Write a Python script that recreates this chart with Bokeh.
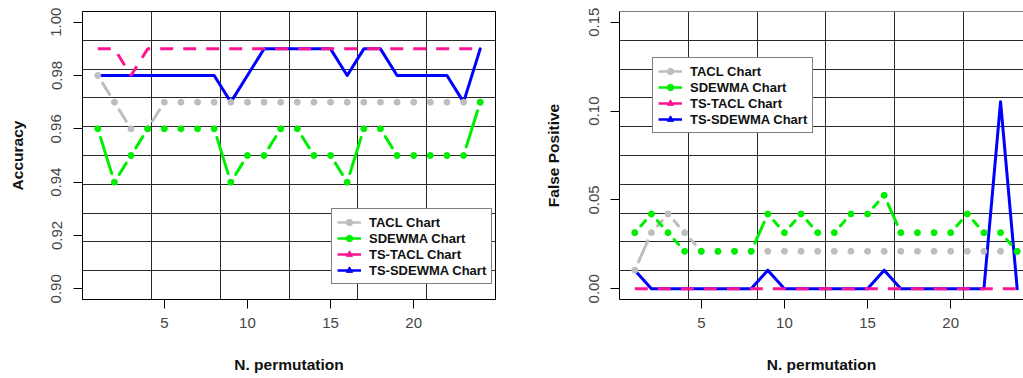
import numpy as np
from bokeh.plotting import figure
from bokeh.layouts import row
from bokeh.models import Range1d, FixedTicker, PrintfTickFormatter, Legend, LegendItem, Span
from bokeh.embed import file_html
from bokeh.resources import INLINE

# ---------------- data ----------------
perm = list(range(1, 25))

acc_tacl = [0.98, 0.97, 0.96, 0.96, 0.97, 0.97, 0.97, 0.97, 0.97, 0.97, 0.97, 0.97,
            0.97, 0.97, 0.97, 0.97, 0.97, 0.97, 0.97, 0.97, 0.97, 0.97, 0.97, 0.97]
acc_sdewma = [0.96, 0.94, 0.95, 0.96, 0.96, 0.96, 0.96, 0.96, 0.94, 0.95, 0.95, 0.96,
              0.96, 0.95, 0.95, 0.94, 0.96, 0.96, 0.95, 0.95, 0.95, 0.95, 0.95, 0.97]
acc_ts_tacl = [0.99, 0.99, 0.98, 0.99, 0.99, 0.99, 0.99, 0.99, 0.99, 0.99, 0.99, 0.99,
               0.99, 0.99, 0.99, 0.99, 0.99, 0.99, 0.99, 0.99, 0.99, 0.99, 0.99, 0.99]
acc_ts_sdewma = [0.98, 0.98, 0.98, 0.98, 0.98, 0.98, 0.98, 0.98, 0.97, 0.98, 0.99, 0.99,
                 0.99, 0.99, 0.99, 0.98, 0.99, 0.99, 0.98, 0.98, 0.98, 0.98, 0.97, 0.99]

fp_tacl = [0.0105, 0.0316, 0.0421, 0.0316, 0.0211, 0.0211, 0.0211, 0.0211, 0.0211, 0.0211, 0.0211, 0.0211,
           0.0211, 0.0211, 0.0211, 0.0211, 0.0211, 0.0211, 0.0211, 0.0211, 0.0211, 0.0211, 0.0211, 0.0211]
fp_sdewma = [0.0316, 0.0421, 0.0316, 0.0211, 0.0211, 0.0211, 0.0211, 0.0211, 0.0421, 0.0316, 0.0421, 0.0316,
             0.0316, 0.0421, 0.0421, 0.0526, 0.0316, 0.0316, 0.0316, 0.0316, 0.0421, 0.0316, 0.0316, 0.0211]
fp_ts_tacl = [0.0, 0.0, 0.0, 0.0, 0.0, 0.0, 0.0, 0.0, 0.0, 0.0, 0.0, 0.0,
              0.0, 0.0, 0.0, 0.0, 0.0, 0.0, 0.0, 0.0, 0.0, 0.0, 0.0, 0.0]
fp_ts_sdewma = [0.0105, 0.0, 0.0, 0.0, 0.0, 0.0, 0.0, 0.0, 0.0105, 0.0, 0.0, 0.0,
                0.0, 0.0, 0.0, 0.0105, 0.0, 0.0, 0.0, 0.0, 0.0, 0.0, 0.1053, 0.0]

series_names = ["TACL Chart", "SDEWMA Chart", "TS-TACL Chart", "TS-SDEWMA Chart"]
acc_ticks = [0.90, 0.92, 0.94, 0.96, 0.98, 1.00]
fp_ticks = [0.00, 0.05, 0.10, 0.15]
x_ticks = [5, 10, 15, 20]

# ---------------- style ----------------
FONT = "Liberation Sans"
C_TACL = "#BEBEBE"
C_SDEWMA = "#00EE00"
C_TSTACL = "#FF1493"
C_TSSDEWMA = "#0000FF"
H = 378
TOP = 11
BOTTOM = 79
FRAME_H = H - TOP - BOTTOM


def gapped(x, y, sx, sy, gap):
    """R type='b' style segments: lines between points with gaps around each point."""
    x = np.asarray(x, float)
    y = np.asarray(y, float)
    ddx = np.diff(x)
    ddy = np.diff(y)
    L = np.hypot(ddx * sx, ddy * sy)
    keep = L > 2 * gap
    f = np.where(keep, gap / np.where(L == 0, 1, L), 0)
    x0 = x[:-1] + f * ddx
    y0 = y[:-1] + f * ddy
    x1 = x[1:] - f * ddx
    y1 = y[1:] - f * ddy
    return x0[keep], y0[keep], x1[keep], y1[keep]


def make_panel(width, bl, br, xr, xfull, yr, yticks, ylabel, data, legend_xy,
               ylab_standoff, title_standoff, open_right):
    p = figure(width=width, height=H, x_range=Range1d(*xr), y_range=Range1d(*yr),
               output_backend="svg", toolbar_location=None,
               min_border_left=bl, min_border_right=br, min_border_top=TOP, min_border_bottom=BOTTOM,
               background_fill_color="white", border_fill_color="white")
    frame_w = width - bl - br
    sx = frame_w / (xr[1] - xr[0])
    sy = FRAME_H / (yr[1] - yr[0])

    # grid: equal divisions of the plotting box (6 x 10)
    p.xgrid.ticker = FixedTicker(ticks=[xfull[0] + k * (xfull[1] - xfull[0]) / 6 for k in range(1, 6)])
    p.ygrid.ticker = FixedTicker(ticks=[yr[0] + k * (yr[1] - yr[0]) / 10 for k in range(1, 10)])
    for g in (p.xgrid, p.ygrid):
        g.grid_line_color = "#2a2a2a"
        g.grid_line_width = 1
        g.grid_line_alpha = 1

    if open_right:
        p.outline_line_color = None
        p.add_layout(Span(location=yr[1], dimension="width", line_color="black", line_width=1))
    else:
        p.outline_line_color = "black"
        p.outline_line_width = 1

    tacl, sdewma, ts_tacl, ts_sdewma = data
    # TS-SDEWMA: solid blue
    p.line(perm, ts_sdewma, line_color=C_TSSDEWMA, line_width=3, line_join="round", line_cap="round")
    # TS-TACL: dashed pink
    p.line(perm, ts_tacl, line_color=C_TSTACL, line_width=3, line_dash="13 10")
    # TACL and SDEWMA: type "b"
    for vals, col in ((tacl, C_TACL), (sdewma, C_SDEWMA)):
        x0, y0, x1, y1 = gapped(perm, vals, sx, sy, 9)
        p.segment(x0=x0, y0=y0, x1=x1, y1=y1, line_color=col, line_width=3, line_cap="round")
        p.scatter(perm, vals, marker="circle", size=6, fill_color=col, line_color=col)

    # axes
    p.xaxis.ticker = FixedTicker(ticks=x_ticks)
    p.yaxis.ticker = FixedTicker(ticks=yticks)
    p.yaxis.formatter = PrintfTickFormatter(format="%.2f")
    for ax in (p.xaxis[0], p.yaxis[0]):
        ax.axis_line_color = "black"
        ax.major_tick_line_color = "black"
        ax.major_tick_in = 0
        ax.major_tick_out = 9
        ax.minor_tick_line_color = None
        ax.major_label_text_font = FONT
        ax.major_label_text_font_size = "15px"
        ax.major_label_text_color = "#444444"
        ax.axis_label_text_font = FONT
        ax.axis_label_text_font_size = "15.5px"
        ax.axis_label_text_font_style = "bold"
        ax.axis_label_text_color = "#111111"
    p.xaxis.major_label_standoff = 9
    p.xaxis.axis_label = "N. permutation"
    p.xaxis.axis_label_standoff = 25
    p.yaxis.major_label_orientation = "vertical"
    p.yaxis.major_label_standoff = ylab_standoff
    p.yaxis.axis_label = ylabel
    p.yaxis.axis_label_standoff = title_standoff

    # legend (line + marker samples); proxy renderers hold no drawable point
    items = []
    spec = [(C_TACL, "circle", 5), (C_SDEWMA, "circle", 6), (C_TSTACL, "triangle", 7), (C_TSSDEWMA, "triangle", 7)]
    for name, (col, mk, ms) in zip(series_names, spec):
        lr = p.line(x=[np.nan], y=[np.nan], line_color=col, line_width=2.5)
        sr = p.scatter(x=[np.nan], y=[np.nan], marker=mk, size=ms, fill_color=col, line_color=col)
        items.append(LegendItem(label=name, renderers=[lr, sr]))
    leg = Legend(items=items, location=legend_xy, orientation="vertical",
                 border_line_color="black", border_line_width=1,
                 background_fill_color="white", background_fill_alpha=1,
                 label_text_font=FONT, label_text_font_size="13px", label_text_font_style="bold",
                 label_text_color="#111111", glyph_width=24, glyph_height=16, label_height=16,
                 spacing=0, padding=5, margin=0, label_standoff=8)
    p.add_layout(leg)
    return p


left = make_panel(540, 82, 45, (0.08, 24.92), (0.08, 24.92), (0.896, 1.004), acc_ticks, "Accuracy",
                  (acc_tacl, acc_sdewma, acc_ts_tacl, acc_ts_sdewma), (249, 15), 12, 23, False)
right = make_panel(483, 79, 0, (0.08, 24.38), (0.08, 24.92), (-0.006, 0.156), fp_ticks, "False Positive",
                   (fp_tacl, fp_sdewma, fp_ts_tacl, fp_ts_sdewma), (33, 166), 11, 25, True)

layout = row(left, right)
open("out.html", "w").write(file_html(layout, INLINE))
